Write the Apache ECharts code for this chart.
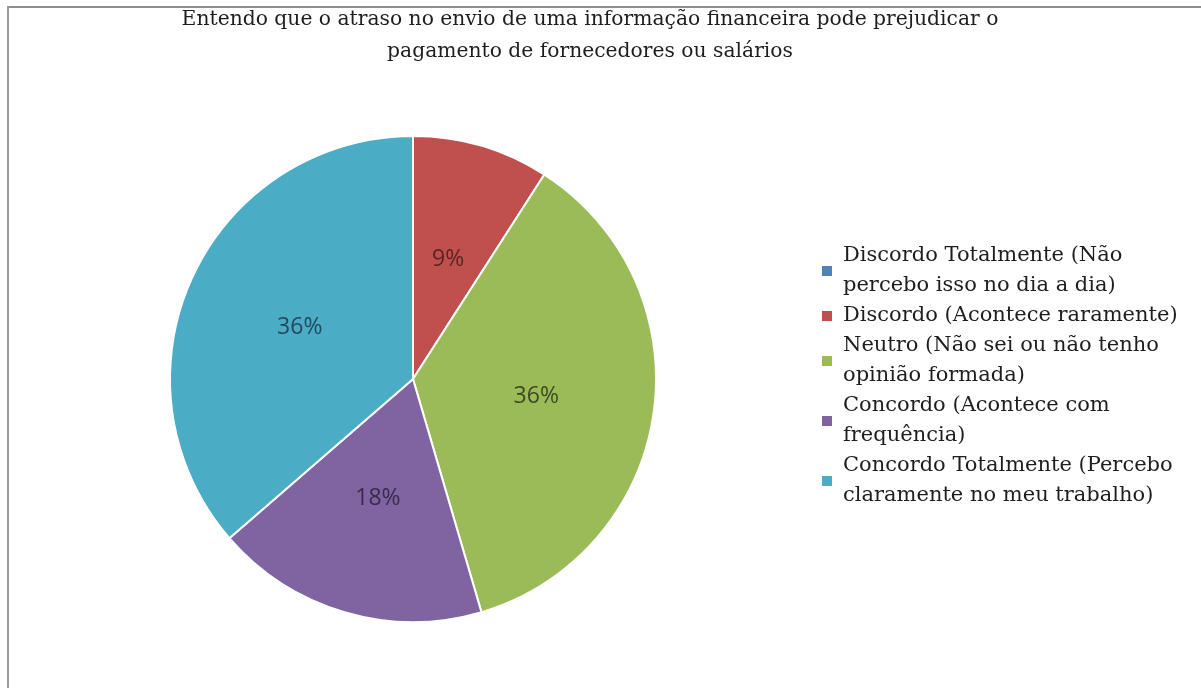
<!DOCTYPE html>
<html>
<head>
<meta charset="utf-8">
<title>Entendo que o atraso no envio de uma informação financeira pode prejudicar o pagamento de fornecedores ou salários</title>
<script src="https://cdn.jsdelivr.net/npm/echarts@6/dist/echarts.min.js"></script>
<style>
  html, body { margin: 0; padding: 0; background: #ffffff; }
  #chart { width: 1201px; height: 688px; }
</style>
</head>
<body>
<div id="chart"></div>
<script>
// Survey answers (share of respondents, %)
const categories = [
  'Discordo Totalmente (Não\npercebo isso no dia a dia)',
  'Discordo (Acontece raramente)',
  'Neutro (Não sei ou não tenho\nopinião formada)',
  'Concordo (Acontece com\nfrequência)',
  'Concordo Totalmente (Percebo\nclaramente no meu trabalho)'
];
const shares = [0, 9, 36, 18, 36];
const sliceColors = ['#4F81BD', '#C0504D', '#9BBB59', '#8064A2', '#4BACC6'];
const labelColors = ['#1f3550', '#5a2422', '#3d4a20', '#382a4c', '#22495e'];
const titleText = 'Entendo que o atraso no envio de uma informação financeira pode prejudicar o\npagamento de fornecedores ou salários';

const chart = echarts.init(document.getElementById('chart'), null, { renderer: 'canvas' });

const pieData = categories.map((name, i) => ({
  name: name,
  value: shares[i],
  itemStyle: { color: sliceColors[i] },
  label: { color: labelColors[i] }
}));

chart.setOption({
  animation: false,
  backgroundColor: '#ffffff',
  title: {
    text: titleText,
    left: 590,
    top: 4,
    padding: 0,
    textAlign: 'center',
    textStyle: {
      fontFamily: 'DejaVu Serif',
      fontSize: 20.3,
      fontWeight: 'normal',
      color: '#1e1e1e',
      lineHeight: 32
    }
  },
  legend: {
    orient: 'vertical',
    left: 822,
    top: 241,
    padding: 0,
    icon: 'rect',
    itemWidth: 10,
    itemHeight: 10,
    itemGap: 0,
    selectedMode: false,
    data: categories,
    itemStyle: { borderWidth: 0 },
    textStyle: {
      fontFamily: 'DejaVu Serif',
      fontSize: 21,
      color: '#1e1e1e',
      lineHeight: 30,
      padding: [0, 0, 0, 6]
    }
  },
  graphic: [
    {
      type: 'line',
      shape: { x1: 8, y1: 7, x2: 1201, y2: 7 },
      style: { stroke: '#8e8e8e', lineWidth: 2 },
      silent: true
    },
    {
      type: 'line',
      shape: { x1: 8, y1: 6, x2: 8, y2: 688 },
      style: { stroke: '#9a9a9a', lineWidth: 2 },
      silent: true
    }
  ],
  series: [{
    type: 'pie',
    center: [413, 379],
    radius: 243,
    startAngle: 90,
    clockwise: true,
    avoidLabelOverlap: false,
    emphasis: { disabled: true },
    itemStyle: { borderColor: '#ffffff', borderWidth: 2 },
    label: {
      show: true,
      position: 'inside',
      fontFamily: 'Open Sans',
      fontSize: 23,
      formatter: p => (p.value > 0 ? p.value + '%' : '')
    },
    labelLine: { show: false },
    data: pieData
  }]
});
</script>
</body>
</html>
